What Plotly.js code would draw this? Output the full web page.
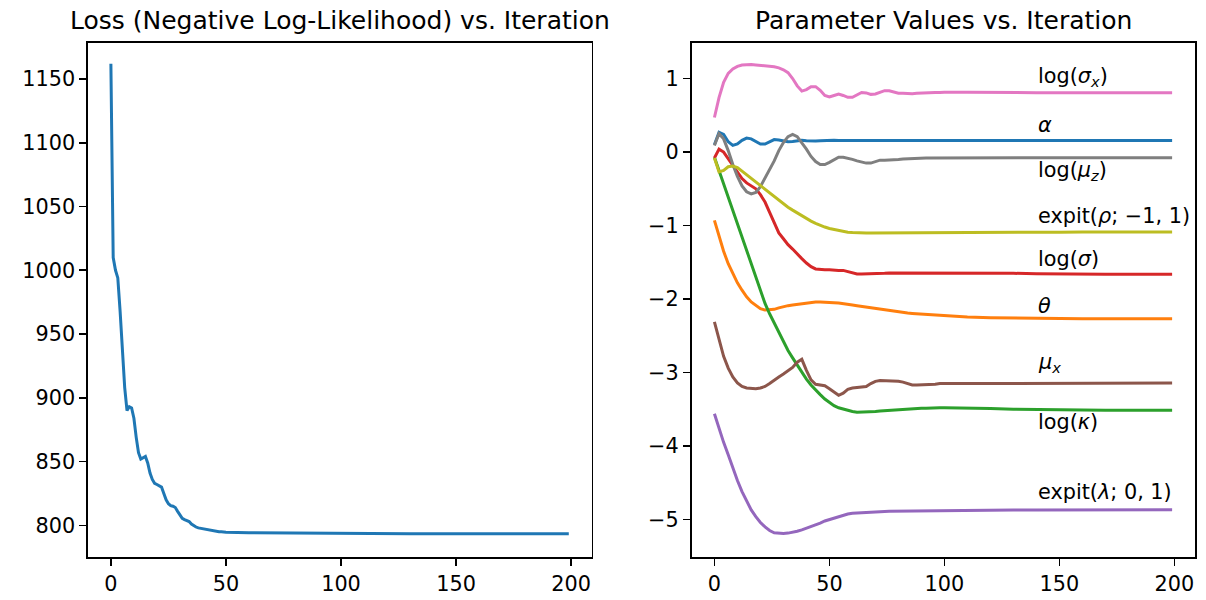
<!DOCTYPE html>
<html>
<head>
<meta charset="utf-8">
<script src="https://cdn.plot.ly/plotly-3.0.1.min.js"></script>
<style>html,body{margin:0;padding:0;background:#fff;}#chart{width:1206px;height:600px;}</style>
</head>
<body>
<div id="chart"></div>
<script>
// ---------- DATA ----------
const lossIter = [0,1,2,3,4,5,6,7,8,9,10,11,12,13,14,15,16,17,18,19,20,21,22,23,24,25,26,27,28,29,30,31,32,33,34,35,36,37,38,39,40,41,42,43,44,45,46,47,48,49,50,60,70,80,90,100,110,120,130,140,150,160,170,180,190,199];
const lossValues = [1162,1010,1000,994,968,937,908,890,893,892,
  884,869,857,852,853,854,849,841,836,833,
  832,831,830,825,820,817,815.5,815,814,811,
  808,805.5,804.5,804,803,801,799.5,798.7,798,797.6,
  797.3,797,796.5,796.1,795.7,795.4,795.2,795,794.9,794.8,794.7,
  794.3,794.1,793.9,793.8,793.7,793.6,793.6,793.5,793.5,793.5,793.5,793.5,793.5,793.5,793.5];

const paramIter = [0,2,4,6,8,10,12,14,16,18,20,22,24,26,28,30,32,34,36,38,40,42,44,46,48,50,52,54,56,58,60,62,64,66,68,70,72,74,76,78,80,82,84,86,88,90,92,94,96,98,100,110,120,130,140,150,160,170,180,190,199];

const alphaVals = [0.10,0.27,0.24,0.14,0.09,0.11,0.16,0.19,0.18,0.14,
  0.11,0.11,0.14,0.17,0.165,0.15,0.14,0.145,0.155,0.16,
  0.155,0.15,0.15,0.155,0.16,0.16,0.16,0.158,0.158,0.158,
  0.158,0.158,0.158,0.158,0.158,0.158,0.158,0.158,0.158,0.158,
  0.158,0.158,0.158,0.158,0.158,0.158,0.158,0.158,0.158,0.158,
  0.158,0.158,0.158,0.158,0.158,0.158,0.158,0.158,0.158,0.158,0.158];
const thetaVals = [-0.93,-1.15,-1.35,-1.52,-1.66,-1.78,-1.88,-1.97,-2.04,-2.09,
  -2.13,-2.15,-2.15,-2.14,-2.12,-2.10,-2.09,-2.08,-2.07,-2.06,
  -2.05,-2.045,-2.04,-2.04,-2.04,-2.045,-2.05,-2.055,-2.06,-2.07,
  -2.08,-2.09,-2.10,-2.11,-2.12,-2.13,-2.14,-2.15,-2.16,-2.17,
  -2.175,-2.18,-2.19,-2.195,-2.20,-2.205,-2.21,-2.215,-2.22,-2.225,
  -2.23,-2.245,-2.255,-2.26,-2.265,-2.267,-2.268,-2.268,-2.268,-2.268,-2.268];
const logKappaVals = [-0.07,-0.25,-0.43,-0.62,-0.80,-0.98,-1.16,-1.34,-1.53,-1.71,
  -1.89,-2.06,-2.20,-2.33,-2.46,-2.58,-2.70,-2.80,-2.90,-3.00,
  -3.09,-3.17,-3.24,-3.30,-3.36,-3.41,-3.45,-3.48,-3.50,-3.52,
  -3.53,-3.54,-3.54,-3.54,-3.535,-3.53,-3.525,-3.52,-3.515,-3.51,
  -3.505,-3.50,-3.495,-3.49,-3.49,-3.485,-3.485,-3.48,-3.48,-3.48,
  -3.48,-3.48,-3.49,-3.50,-3.505,-3.51,-3.512,-3.514,-3.514,-3.514,-3.514];
const logSigmaVals = [-0.08,0.04,0.00,-0.09,-0.18,-0.27,-0.36,-0.42,-0.46,-0.50,
  -0.58,-0.68,-0.82,-0.97,-1.10,-1.18,-1.26,-1.32,-1.39,-1.45,
  -1.51,-1.56,-1.59,-1.60,-1.60,-1.60,-1.61,-1.61,-1.61,-1.63,
  -1.65,-1.66,-1.66,-1.66,-1.66,-1.655,-1.65,-1.65,-1.645,-1.645,
  -1.645,-1.64,-1.64,-1.64,-1.64,-1.64,-1.64,-1.64,-1.64,-1.64,
  -1.64,-1.64,-1.645,-1.65,-1.655,-1.66,-1.662,-1.664,-1.664,-1.664,-1.664];
const expitLambdaVals = [-3.56,-3.76,-3.95,-4.12,-4.30,-4.47,-4.62,-4.75,-4.87,-4.96,
  -5.04,-5.10,-5.15,-5.18,-5.19,-5.19,-5.185,-5.175,-5.16,-5.14,
  -5.12,-5.10,-5.08,-5.05,-5.02,-5.00,-4.98,-4.96,-4.94,-4.925,
  -4.915,-4.91,-4.905,-4.90,-4.895,-4.893,-4.891,-4.89,-4.889,-4.888,
  -4.887,-4.886,-4.885,-4.884,-4.883,-4.882,-4.881,-4.88,-4.879,-4.878,
  -4.877,-4.874,-4.872,-4.87,-4.869,-4.868,-4.867,-4.866,-4.866,-4.866,-4.866];
const muXVals = [-2.31,-2.55,-2.78,-2.94,-3.06,-3.14,-3.19,-3.21,-3.22,-3.22,
  -3.21,-3.19,-3.15,-3.10,-3.06,-3.02,-2.98,-2.93,-2.86,-2.82,
  -2.97,-3.10,-3.16,-3.17,-3.18,-3.22,-3.27,-3.31,-3.28,-3.23,
  -3.21,-3.20,-3.20,-3.19,-3.15,-3.12,-3.11,-3.11,-3.11,-3.11,
  -3.12,-3.13,-3.15,-3.17,-3.17,-3.17,-3.17,-3.17,-3.16,-3.15,
  -3.15,-3.14,-3.14,-3.14,-3.143,-3.143,-3.143,-3.143,-3.143,-3.143,-3.143];
const logSigmaXVals = [0.47,0.74,0.95,1.07,1.13,1.165,1.185,1.19,1.19,1.185,
  1.18,1.175,1.17,1.16,1.145,1.12,1.08,1.00,0.90,0.83,
  0.85,0.89,0.89,0.84,0.77,0.75,0.77,0.79,0.77,0.745,
  0.745,0.78,0.81,0.805,0.785,0.79,0.81,0.835,0.835,0.815,
  0.80,0.80,0.795,0.795,0.80,0.805,0.807,0.808,0.81,0.812,
  0.815,0.815,0.81,0.81,0.808,0.808,0.808,0.808,0.808,0.808,0.808];
const logMuZVals = [0.09,0.25,0.18,0.02,-0.17,-0.33,-0.46,-0.54,-0.57,-0.55,
  -0.47,-0.36,-0.25,-0.12,0.02,0.13,0.21,0.24,0.21,0.13,
  0.04,-0.06,-0.13,-0.17,-0.17,-0.14,-0.10,-0.07,-0.07,-0.08,
  -0.10,-0.12,-0.14,-0.15,-0.15,-0.13,-0.11,-0.11,-0.11,-0.10,
  -0.10,-0.095,-0.09,-0.09,-0.09,-0.085,-0.08,-0.08,-0.08,-0.078,
  -0.077,-0.077,-0.077,-0.077,-0.077,-0.077,-0.077,-0.077,-0.077,-0.077,-0.077];
const expitRhoVals = [-0.08,-0.27,-0.25,-0.20,-0.19,-0.21,-0.26,-0.31,-0.36,-0.41,
  -0.46,-0.51,-0.56,-0.61,-0.66,-0.71,-0.75,-0.79,-0.83,-0.87,
  -0.91,-0.94,-0.97,-1.00,-1.02,-1.04,-1.055,-1.07,-1.08,-1.09,
  -1.095,-1.10,-1.10,-1.10,-1.10,-1.10,-1.10,-1.10,-1.10,-1.10,
  -1.10,-1.10,-1.10,-1.10,-1.10,-1.10,-1.10,-1.10,-1.10,-1.10,
  -1.10,-1.10,-1.095,-1.093,-1.09,-1.09,-1.089,-1.088,-1.088,-1.088,-1.088];

const paramLabels = ['<i>α</i>','<i>θ</i>','log(<i>κ</i>)','log(<i>σ</i>)','expit(<i>λ</i>; 0, 1)','<i>μ<sub>x</sub></i>','log(<i>σ<sub>x</sub></i>)','log(<i>μ<sub>z</sub></i>)','expit(<i>ρ</i>; −1, 1)'];
const paramSeries = [alphaVals,thetaVals,logKappaVals,logSigmaVals,expitLambdaVals,muXVals,logSigmaXVals,logMuZVals,expitRhoVals];

const xTicks = [0,50,100,150,200];
const lossTicks = [800,850,900,950,1000,1050,1100,1150];
const paramTicks = [-5,-4,-3,-2,-1,0,1];
const titles = ['Loss (Negative Log-Likelihood) vs. Iteration','Parameter Values vs. Iteration'];

// ---------- STYLE ----------
const colors = ['#1f77b4','#ff7f0e','#2ca02c','#d62728','#9467bd','#8c564b','#e377c2','#7f7f7f','#bcbd22'];
const labelOffsets = [0.10,0.069,-0.272,0.099,0.127,0.15,0.09,-0.308,0.104]; // baseline offset from final value
const labelX = 140;
const FONT = 'DejaVu Sans';

const traces = [{
  x: lossIter, y: lossValues, type:'scatter', mode:'lines',
  line:{color:'#1f77b4', width:3}, xaxis:'x', yaxis:'y', hoverinfo:'skip'
}];
paramSeries.forEach((s,i)=>{
  traces.push({x: paramIter, y: s, type:'scatter', mode:'lines',
    line:{color:colors[i], width:3}, xaxis:'x2', yaxis:'y2', hoverinfo:'skip'});
});

function axis(domain, range, tickvals, anchor){
  return {domain, range, tickmode:'array', tickvals, anchor,
    ticks:'outside', ticklen:7, tickwidth:1.6, tickcolor:'#000',
    showline:true, linecolor:'#000', linewidth:1.6, mirror:true,
    showgrid:false, zeroline:false, fixedrange:true,
    tickfont:{family:FONT, size:20.8, color:'#000'}};
}

const annotations = paramLabels.map((t,i)=>({
  xref:'x2', yref:'y2', x: labelX, y: paramSeries[i][paramSeries[i].length-1] + labelOffsets[i],
  text: t, showarrow:false, xanchor:'left', yanchor:'bottom', yshift:-6, borderpad:1,
  font:{family:FONT, size:20.8, color:'#000'}
}));
const titleCenters = [0.2275, 0.7726];
titles.forEach((t,i)=>{
  annotations.push({xref:'paper', yref:'paper', x:titleCenters[i], y:1, yshift:6,
    xanchor:'center', yanchor:'bottom', text:t, showarrow:false,
    font:{family:FONT, size:25, color:'#000'}});
});

const layout = {
  width:1206, height:600,
  margin:{l:88, r:11, t:43, b:43, pad:0},
  paper_bgcolor:'#fff', plot_bgcolor:'#fff',
  showlegend:false,
  xaxis: axis([0,0.455],[-9.95,208.95],xTicks,'y'),
  yaxis: axis([0,1],[775.2,1178.2],lossTicks,'x'),
  xaxis2: axis([0.5452,1],[-9.95,208.95],xTicks,'y2'),
  yaxis2: axis([0,1],[-5.51,1.484],paramTicks,'x2'),
  annotations
};

Plotly.newPlot('chart', traces, layout, {displayModeBar:false, staticPlot:true});
</script>
</body>
</html>
